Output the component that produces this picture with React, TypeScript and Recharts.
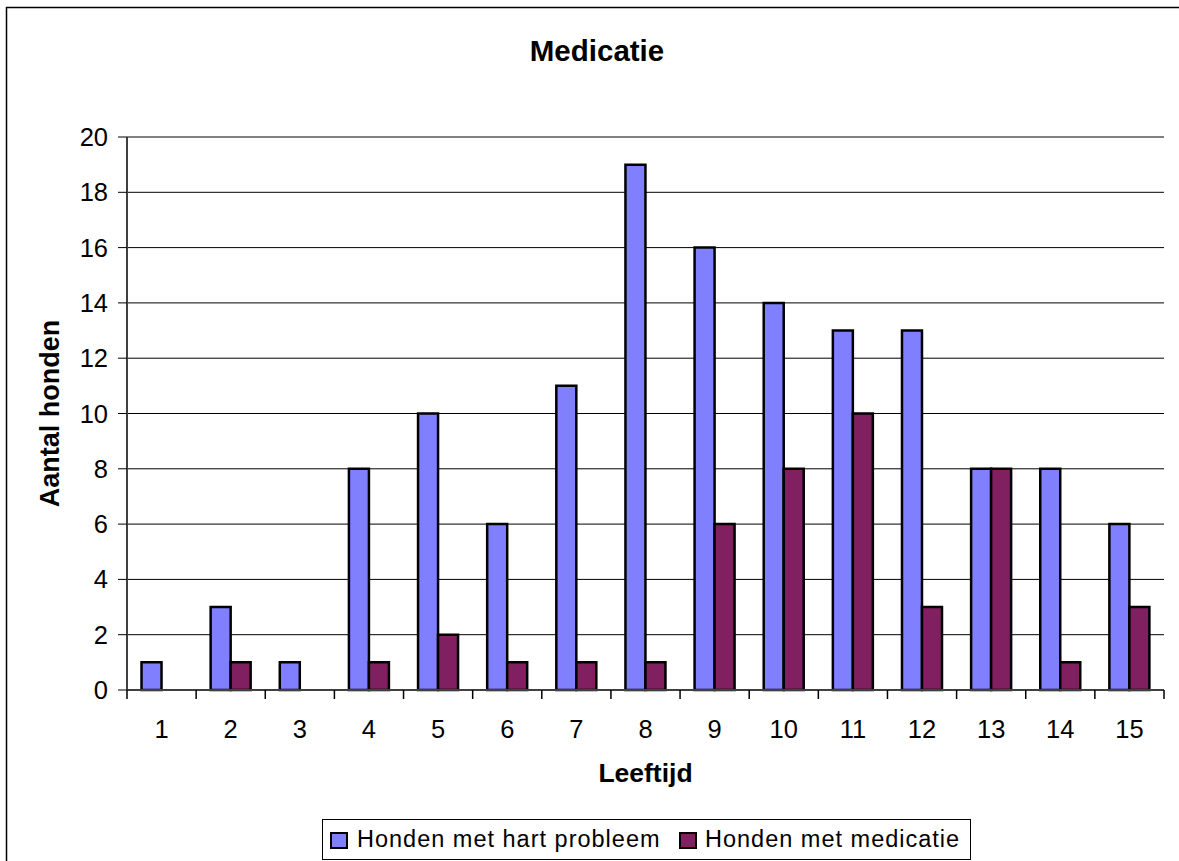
import { Bar, BarChart, CartesianGrid, XAxis, YAxis } from 'recharts';

const ages = ['1', '2', '3', '4', '5', '6', '7', '8', '9', '10', '11', '12', '13', '14', '15'];
const hartProbleem = [1, 3, 1, 8, 10, 6, 11, 19, 16, 14, 13, 13, 8, 8, 6];
const medicatie = [0, 1, 0, 1, 2, 1, 1, 1, 6, 8, 10, 3, 8, 1, 3];
const countTicks = [0, 2, 4, 6, 8, 10, 12, 14, 16, 18, 20];

const W = 1179;
const H = 861;
const PLOT_LEFT = 127;
const PLOT_RIGHT = 1164;
const PLOT_TOP = 137;
const PLOT_BOTTOM = 690;
const BAND = (PLOT_RIGHT - PLOT_LEFT) / ages.length;
const FONT = '"Liberation Sans", Arial, Helvetica, sans-serif';

const BLUE = '#8080FF';
const PLUM = '#802060';

const data = ages.map((age, i) => ({
  age,
  hart: hartProbleem[i],
  med: medicatie[i],
}));

// Excel style: tick marks sit between categories, label in the middle
function AgeTick(props: any) {
  const { x, index, payload } = props;
  const left = x - BAND / 2;
  const right = x + BAND / 2;
  return (
    <g>
      <line x1={left} x2={left} y1={PLOT_BOTTOM} y2={PLOT_BOTTOM + 9} stroke="#000" strokeWidth={1.5} />
      {index === ages.length - 1 && (
        <line x1={right} x2={right} y1={PLOT_BOTTOM} y2={PLOT_BOTTOM + 9} stroke="#000" strokeWidth={1.5} />
      )}
      <text x={x} y={738} textAnchor="middle" fontSize={25.5} fill="#000">
        {payload.value}
      </text>
    </g>
  );
}

function LegendBox() {
  const marker = (color: string, left: number) => (
    <div
      style={{
        position: 'absolute',
        left,
        top: 12,
        width: 14,
        height: 13,
        background: color,
        border: '2px solid #000',
      }}
    />
  );
  const label = (text: string, left: number) => (
    <div
      style={{
        position: 'absolute',
        left,
        top: 6,
        fontSize: 23.5,
        letterSpacing: 1,
        lineHeight: '27px',
        color: '#000',
        whiteSpace: 'nowrap',
      }}
    >
      {text}
    </div>
  );
  return (
    <div
      style={{
        position: 'absolute',
        left: 322,
        top: 819,
        width: 647,
        height: 39,
        border: '1px solid #000',
        background: '#fff',
      }}
    >
      {marker(BLUE, 7)}
      {label('Honden met hart probleem', 34)}
      {marker(PLUM, 356)}
      {label('Honden met medicatie', 382)}
    </div>
  );
}

export default function App() {
  return (
    <div
      style={{
        position: 'absolute',
        left: 0,
        top: 0,
        width: W,
        height: H,
        overflow: 'hidden',
        background: '#fff',
        fontFamily: FONT,
      }}
    >
      <BarChart
        width={W}
        height={H}
        data={data}
        margin={{ top: PLOT_TOP, right: W - PLOT_RIGHT, bottom: H - PLOT_BOTTOM - 60, left: 0 }}
        barCategoryGap="21%"
        barGap={0}
      >
        <CartesianGrid vertical={false} stroke="#000" strokeWidth={1} />
        <XAxis
          dataKey="age"
          height={60}
          interval={0}
          tickLine={false}
          axisLine={{ stroke: '#404040', strokeWidth: 2 }}
          tick={<AgeTick />}
        />
        <XAxis
          xAxisId="top"
          orientation="top"
          dataKey="age"
          height={0}
          tick={false}
          tickLine={false}
          axisLine={{ stroke: '#808080', strokeWidth: 2 }}
        />
        <YAxis
          width={PLOT_LEFT}
          domain={[0, 20]}
          ticks={countTicks}
          interval={0}
          tickSize={9}
          tickMargin={10}
          tick={{ fill: '#000', fontSize: 25.5 }}
          tickLine={{ stroke: '#000' }}
          axisLine={{ stroke: '#404040', strokeWidth: 2 }}
        />
        <YAxis
          yAxisId="right"
          orientation="right"
          width={0}
          domain={[0, 20]}
          tick={false}
          tickLine={false}
          axisLine={{ stroke: '#808080', strokeWidth: 2 }}
        />
        <Bar dataKey="hart" fill={BLUE} stroke="#000" strokeWidth={2.5} isAnimationActive={false} />
        <Bar dataKey="med" fill={PLUM} stroke="#000" strokeWidth={2.5} isAnimationActive={false} />
      </BarChart>

      <svg
        width={W}
        height={H}
        style={{ position: 'absolute', left: 0, top: 0, pointerEvents: 'none' }}
      >
        <line x1={6.5} x2={6.5} y1={7} y2={H} stroke="#000" strokeWidth={1.5} />
        <line x1={6} x2={W} y1={7.5} y2={7.5} stroke="#000" strokeWidth={1.5} />
        <text x={597} y={61} textAnchor="middle" fontSize={29.5} fontWeight="bold" fill="#000">
          Medicatie
        </text>
        <text
          x={(PLOT_LEFT + PLOT_RIGHT) / 2}
          y={782}
          textAnchor="middle"
          fontSize={26.5}
          fontWeight="bold"
          fill="#000"
        >
          Leeftijd
        </text>
        <text
          x={59}
          y={(PLOT_TOP + PLOT_BOTTOM) / 2}
          transform={`rotate(-90, 59, ${(PLOT_TOP + PLOT_BOTTOM) / 2})`}
          textAnchor="middle"
          fontSize={27}
          fontWeight="bold"
          fill="#000"
        >
          Aantal honden
        </text>
      </svg>

      <LegendBox />
    </div>
  );
}
